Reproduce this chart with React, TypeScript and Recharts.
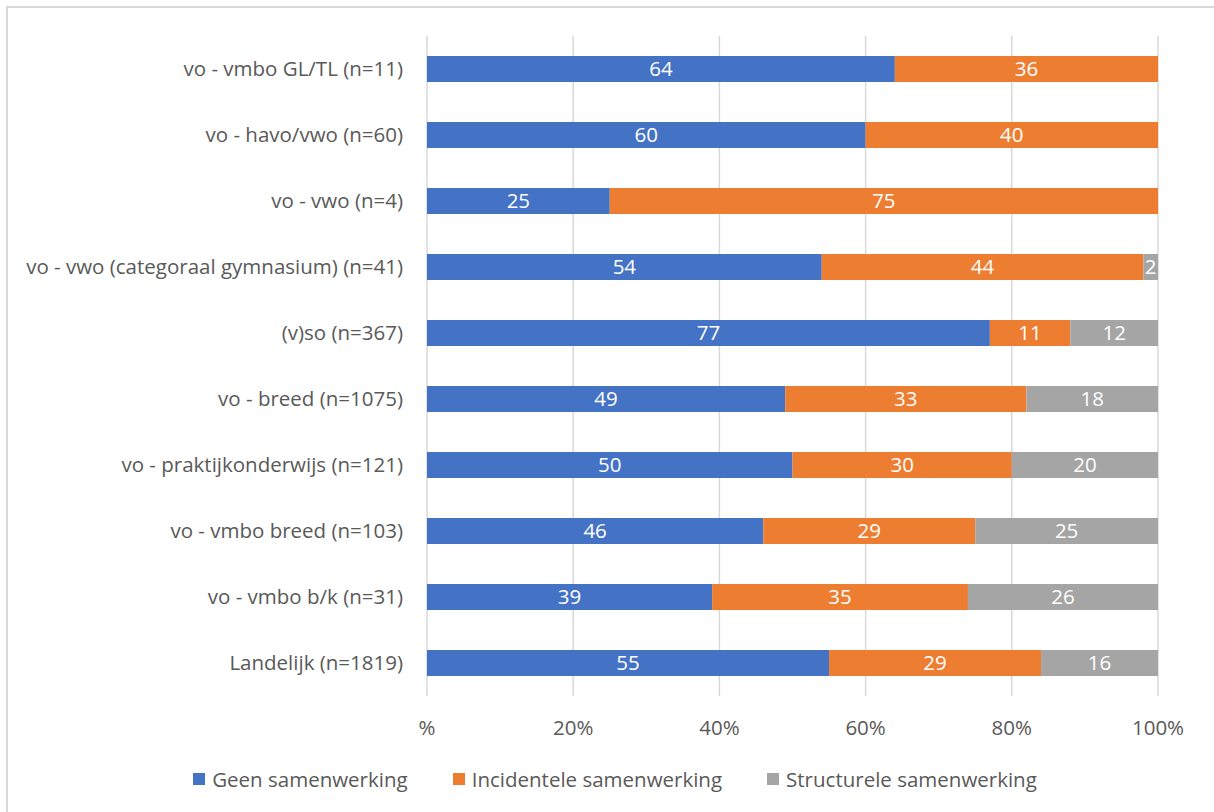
import {
  BarChart,
  Bar,
  XAxis,
  YAxis,
  CartesianGrid,
  LabelList,
} from "recharts";

const categories = [
  "vo - vmbo GL/TL (n=11)",
  "vo - havo/vwo (n=60)",
  "vo - vwo (n=4)",
  "vo - vwo (categoraal gymnasium) (n=41)",
  "(v)so (n=367)",
  "vo - breed (n=1075)",
  "vo - praktijkonderwijs (n=121)",
  "vo - vmbo breed (n=103)",
  "vo - vmbo b/k (n=31)",
  "Landelijk (n=1819)",
];

const geen = [64, 60, 25, 54, 77, 49, 50, 46, 39, 55];
const incidenteel = [36, 40, 75, 44, 11, 33, 30, 29, 35, 29];
const structureel = [0, 0, 0, 2, 12, 18, 20, 25, 26, 16];

const xTicks = [0, 20, 40, 60, 80, 100];

const series = [
  { key: "geen", name: "Geen samenwerking", color: "#4472C4" },
  { key: "incidenteel", name: "Incidentele samenwerking", color: "#ED7D31" },
  { key: "structureel", name: "Structurele samenwerking", color: "#A5A5A5" },
];

const data = categories.map((name, i) => ({
  name,
  geen: geen[i],
  incidenteel: incidenteel[i],
  structureel: structureel[i],
}));

const FONT = "'Open Sans', sans-serif";
const TEXT = "#595959";

const CustomLegend = () => (
  <div
    style={{
      display: "flex",
      justifyContent: "center",
      gap: 45,
      fontFamily: FONT,
      fontSize: 20.5,
      color: TEXT,
      paddingLeft: 16,
    }}
  >
    {series.map((s) => (
      <div key={s.key} style={{ display: "flex", alignItems: "center", gap: 7 }}>
        <div style={{ width: 12, height: 12, backgroundColor: s.color }} />
        <span>{s.name}</span>
      </div>
    ))}
  </div>
);

const App = () => {
  return (
    <div
      style={{
        position: "absolute",
        left: 0,
        top: 0,
        width: 1214,
        height: 812,
        overflow: "hidden",
        background: "#fff",
      }}
    >
      <div
        style={{
          position: "absolute",
          left: 6,
          top: 6,
          width: 1300,
          height: 900,
          borderTop: "2px solid #D9D9D9",
          borderLeft: "2px solid #D9D9D9",
        }}
      />
      <div style={{ position: "absolute", left: 0, top: 0 }}>
        <BarChart
          width={1214}
          height={812}
          data={data}
          layout="vertical"
          margin={{ top: 36, right: 56, bottom: 86, left: 0 }}
          barSize={26}
        >
          <CartesianGrid horizontal={false} stroke="#D9D9D9" strokeWidth={1.5} />
          <XAxis
            type="number"
            domain={[0, 100]}
            ticks={xTicks}
            height={30}
            axisLine={false}
            tickLine={false}
            tickSize={0}
            tickMargin={24}
            interval={0}
            tickFormatter={(v: number) => (v === 0 ? "%" : `${v}%`)}
            tick={{ fill: TEXT, fontSize: 20.5, fontFamily: FONT }}
          />
          <YAxis
            type="category"
            dataKey="name"
            width={427}
            axisLine={false}
            tickLine={false}
            tickSize={0}
            tickMargin={24}
            interval={0}
            tick={{ fill: TEXT, fontSize: 20.5, fontFamily: FONT }}
          />
          {series.map((s) => (
            <Bar
              key={s.key}
              dataKey={s.key}
              name={s.name}
              stackId="a"
              fill={s.color}
              isAnimationActive={false}
            >
              <LabelList
                dataKey={s.key}
                position="center"
                formatter={(v: any) => (v ? v : "")}
                fill="#FFFFFF"
                style={{ fontSize: 20.5, fontFamily: FONT }}
              />
            </Bar>
          ))}
        </BarChart>
      </div>
      <div style={{ position: "absolute", left: 0, top: 765, width: 1214 }}>
        <CustomLegend />
      </div>
    </div>
  );
};

export default App;
